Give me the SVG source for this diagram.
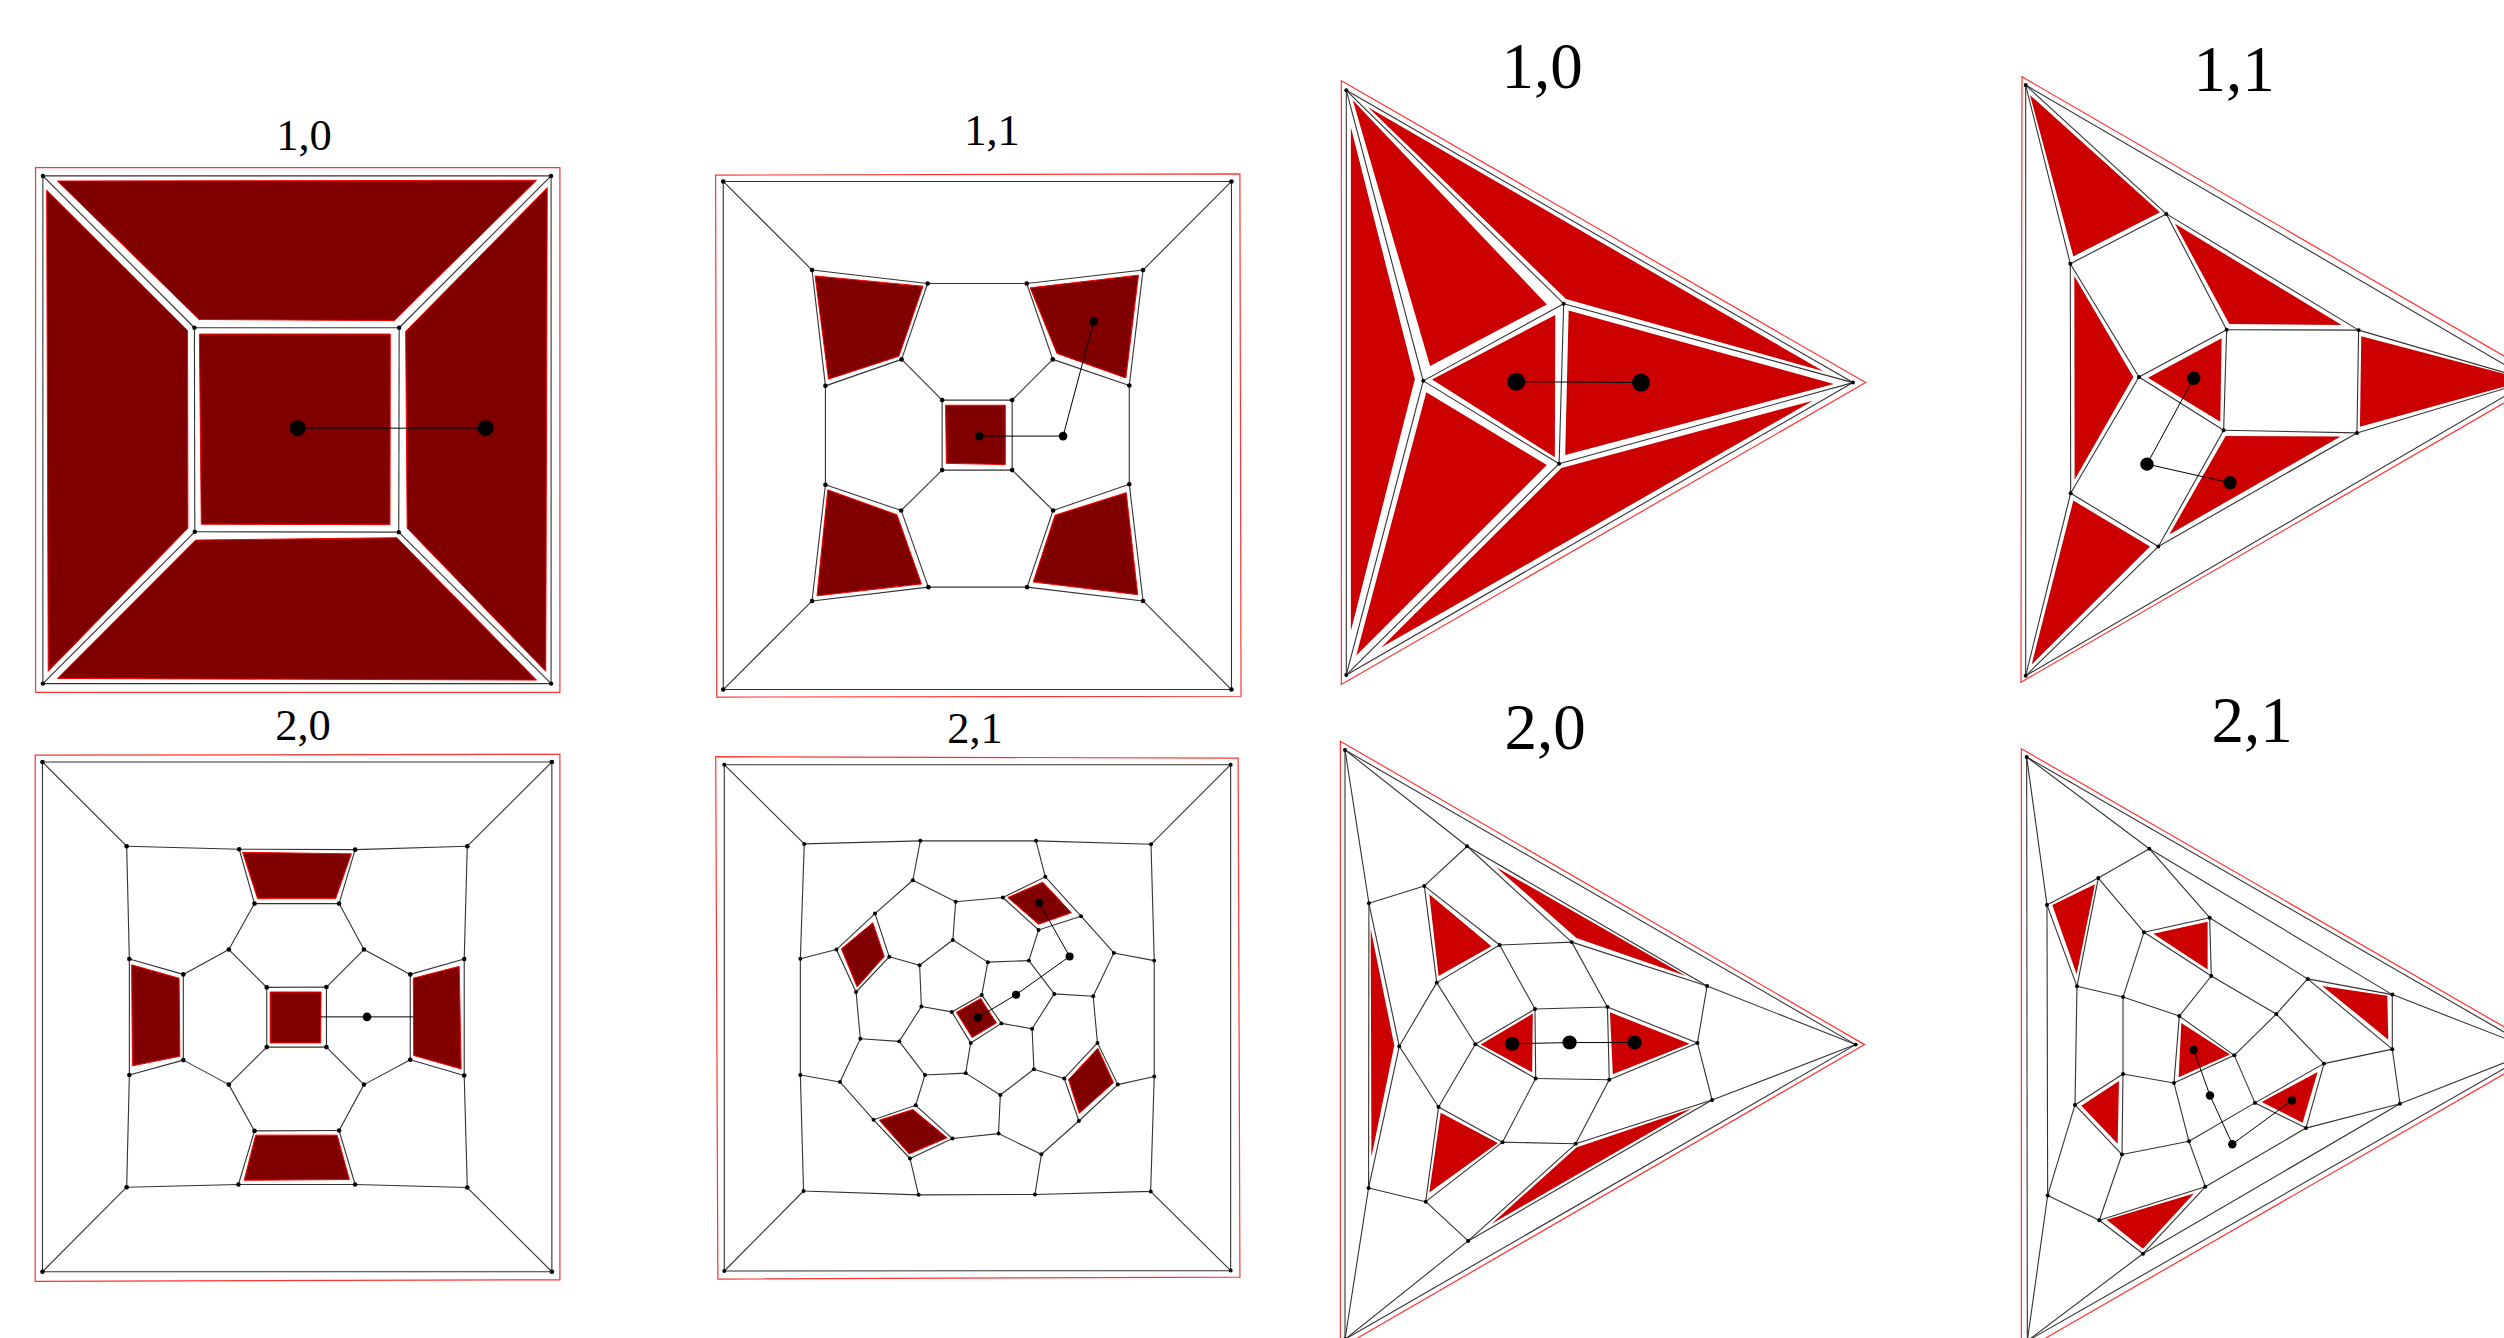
<svg xmlns="http://www.w3.org/2000/svg" width="2504" height="1338" viewBox="0 0 2504 1338">
<style>
text{font-family:"Liberation Serif","Times New Roman",serif;text-anchor:middle;fill:#000}
.s{font-size:44.5px}.l{font-size:65px}
polygon,path{vector-effect:non-scaling-stroke}
.o{fill:none;stroke:#f33;stroke-width:1.2}
.dr{fill:#800000;stroke:#f00;stroke-width:1}
.br{fill:#c00}
.e path{fill:none;stroke:#333;stroke-width:1.1}
.c path{fill:none;stroke:#000;stroke-width:1}
ellipse{fill:#000}
#p1 .v{rx:5.7px;ry:5.6px}#p1 .b{rx:21px;ry:20.2px}
#p2 .v{rx:6px;ry:5.8px}#p2 .b{rx:11.2px;ry:10.9px}
#p3 .v{rx:5.2px;ry:4.6px}#p3 .b{rx:23.5px;ry:20.8px}
#p4 .v{rx:6px;ry:4.6px}#p4 .b{rx:20px;ry:15.4px}
#p5 .v{rx:6px;ry:6px}#p5 .b{rx:11.2px;ry:11.2px}
#p6 .v{rx:5.6px;ry:5.2px}#p6 .b{rx:11.2px;ry:10.5px}
#p7 .v{rx:5.6px;ry:4.8px}#p7 .b{rx:20px;ry:17px}
#p8 .v{rx:6px;ry:4.8px}#p8 .b{rx:12.6px;ry:10.2px}
</style>

<g id="title-p1"><text class="s" x="304" y="150">1,0</text></g>
<g id="p1" transform="translate(0 100) scale(.3827 .3954)">
<polygon class="o" points="93,171 1463,171 1463,1498 93,1498"/>
<g id="p1f1"><polygon class="dr" points="150,205 1402,203 1030,558 520,555"/></g>
<g id="p1f2"><polygon class="dr" points="122,228 490,583 491,1083 126,1445"/></g>
<g id="p1f3"><polygon class="dr" points="1430,222 1060,585 1064,1083 1426,1445"/></g>
<g id="p1f4"><polygon class="dr" points="150,1463 511,1113 1037,1107 1402,1467"/></g>
<g id="p1f5"><polygon class="dr" points="521,592 1020,592 1019,1074 526,1073"/></g>
<g id="p1-edges" class="e">
<path d="M112 192L1440 192"/><path d="M1440 192L1440 1476"/><path d="M1440 1476L112 1476"/><path d="M112 1476L112 192"/>
<path d="M112 192L508 576"/><path d="M1440 192L1043 576"/><path d="M112 1476L509 1092"/><path d="M1440 1476L1042 1093"/>
<path d="M508 576L1043 576"/><path d="M1043 576L1042 1093"/><path d="M1042 1093L509 1092"/><path d="M509 1092L508 576"/>
</g>
<g id="p1-links" class="c"><path d="M778 830L1269 830"/></g>
<g id="p1n1"><ellipse class="v" cx="112" cy="192"/></g><g id="p1n2"><ellipse class="v" cx="1440" cy="192"/></g><g id="p1n3"><ellipse class="v" cx="112" cy="1476"/></g><g id="p1n4"><ellipse class="v" cx="1440" cy="1476"/></g>
<g id="p1n5"><ellipse class="v" cx="508" cy="576"/></g><g id="p1n6"><ellipse class="v" cx="1043" cy="576"/></g><g id="p1n7"><ellipse class="v" cx="509" cy="1092"/></g><g id="p1n8"><ellipse class="v" cx="1042" cy="1093"/></g>
<g id="p1d1"><ellipse class="b" cx="778" cy="830"/></g><g id="p1d2"><ellipse class="b" cx="1269" cy="830"/></g>
</g>

<g id="title-p2"><text class="s" x="992" y="145">1,1</text></g>
<g id="p2" transform="translate(680 100) scale(.3827 .3954)">
<polygon class="o" points="93,190 1463,187 1466,1508 96,1510"/>
<g id="p2f1"><polygon class="dr" points="353,445 635,471 572,648 388,706"/></g>
<g id="p2f2"><polygon class="dr" points="915,475 1198,443 1165,703 985,641"/></g>
<g id="p2f3"><polygon class="dr" points="386,986 567,1049 631,1224 358,1254"/></g>
<g id="p2f4"><polygon class="dr" points="980,1050 1166,993 1196,1251 923,1219"/></g>
<g id="p2f5"><polygon class="dr" points="694,772 850,772 850,922 696,919"/></g>
<g id="p2-edges" class="e">
<path d="M113 206L1441 206L1441 1491L113 1491Z"/>
<path d="M113 206L345 430"/><path d="M1441 206L1210 430"/><path d="M113 1491L345 1267"/><path d="M1441 1491L1210 1267"/>
<path d="M345 430L647 464"/><path d="M647 464L906 464"/><path d="M906 464L1210 430"/><path d="M345 430L380 723"/><path d="M380 723L579 656"/><path d="M579 656L647 464"/><path d="M906 464L974 656"/><path d="M974 656L1174 722"/><path d="M1174 722L1210 430"/><path d="M380 723L380 973"/><path d="M1174 722L1174 972"/><path d="M579 656L685 759"/><path d="M974 656L868 759"/><path d="M685 759L868 759L868 936L685 936Z"/><path d="M685 936L578 1038"/><path d="M868 936L975 1038"/><path d="M380 973L578 1038"/><path d="M578 1038L649 1232"/><path d="M649 1232L907 1232"/><path d="M907 1232L975 1038"/><path d="M975 1038L1174 972"/><path d="M380 973L345 1267"/><path d="M345 1267L649 1232"/><path d="M907 1232L1210 1267"/><path d="M1174 972L1210 1267"/>
</g>
<g id="p2-links" class="c"><path d="M782 850L1001 850L1081 560"/></g>
<g id="p2n1"><ellipse class="v" cx="113" cy="206"/></g><g id="p2n2"><ellipse class="v" cx="1441" cy="206"/></g><g id="p2n3"><ellipse class="v" cx="113" cy="1491"/></g><g id="p2n4"><ellipse class="v" cx="1441" cy="1491"/></g>
<g id="p2n5"><ellipse class="v" cx="345" cy="430"/></g><g id="p2n6"><ellipse class="v" cx="647" cy="464"/></g><g id="p2n7"><ellipse class="v" cx="906" cy="464"/></g><g id="p2n8"><ellipse class="v" cx="1210" cy="430"/></g>
<g id="p2n9"><ellipse class="v" cx="380" cy="723"/></g><g id="p2n10"><ellipse class="v" cx="579" cy="656"/></g><g id="p2n11"><ellipse class="v" cx="974" cy="656"/></g><g id="p2n12"><ellipse class="v" cx="1174" cy="722"/></g>
<g id="p2n13"><ellipse class="v" cx="685" cy="759"/></g><g id="p2n14"><ellipse class="v" cx="868" cy="759"/></g><g id="p2n15"><ellipse class="v" cx="685" cy="936"/></g><g id="p2n16"><ellipse class="v" cx="868" cy="936"/></g>
<g id="p2n17"><ellipse class="v" cx="380" cy="973"/></g><g id="p2n18"><ellipse class="v" cx="578" cy="1038"/></g><g id="p2n19"><ellipse class="v" cx="975" cy="1038"/></g><g id="p2n20"><ellipse class="v" cx="1174" cy="972"/></g>
<g id="p2n21"><ellipse class="v" cx="345" cy="1267"/></g><g id="p2n22"><ellipse class="v" cx="649" cy="1232"/></g><g id="p2n23"><ellipse class="v" cx="907" cy="1232"/></g><g id="p2n24"><ellipse class="v" cx="1210" cy="1267"/></g>
<g id="p2d1"><ellipse class="b" cx="782" cy="850"/></g><g id="p2d2"><ellipse class="b" cx="1001" cy="850"/></g><g id="p2d3"><ellipse class="b" cx="1081" cy="560"/></g>
</g>

<g id="title-p3"><text class="l" x="1542" y="88">1,0</text></g>
<g id="p3" transform="translate(1300 30) scale(.3827 .4337)">
<polygon class="o" points="108,117 1478,813 108,1509"/>
<g id="p3f1"><polygon class="br" points="178,178 695,620 1368,787"/></g>
<g id="p3f2"><polygon class="br" points="138,162 645,633 340,775"/></g>
<g id="p3f3"><polygon class="br" points="133,225 300,805 133,1385"/></g>
<g id="p3f4"><polygon class="br" points="330,835 645,1003 147,1442"/></g>
<g id="p3f5"><polygon class="br" points="212,1424 683,1010 1340,855"/></g>
<g id="p3f6"><polygon class="br" points="702,647 1395,816 693,980"/></g>
<g id="p3f7"><polygon class="br" points="345,806 667,657 666,985"/></g>
<g id="p3-edges" class="e">
<path d="M121 139L1445 813"/><path d="M1445 813L121 1487"/><path d="M121 139L121 1487"/><path d="M121 139L689 631"/><path d="M121 139L322 809"/><path d="M322 809L121 1487"/><path d="M121 1487L677 1000"/><path d="M689 631L1445 813"/><path d="M677 1000L1445 813"/><path d="M689 631L322 809"/><path d="M322 809L677 1000"/><path d="M689 631L677 1000"/>
</g>
<g id="p3-links" class="c"><path d="M565 811L891 813"/></g>
<g id="p3n1"><ellipse class="v" cx="121" cy="139"/></g><g id="p3n2"><ellipse class="v" cx="1445" cy="813"/></g><g id="p3n3"><ellipse class="v" cx="121" cy="1487"/></g><g id="p3n4"><ellipse class="v" cx="689" cy="631"/></g><g id="p3n5"><ellipse class="v" cx="322" cy="809"/></g><g id="p3n6"><ellipse class="v" cx="677" cy="1000"/></g>
<g id="p3d1"><ellipse class="b" cx="565" cy="811"/></g><g id="p3d2"><ellipse class="b" cx="891" cy="813"/></g>
</g>

<g id="title-p4"><text class="l" x="2234" y="91">1,1</text></g>
<g id="p4" transform="translate(1990 30) scale(.3333 .4337)">
<polygon class="o" points="96,108 1664,806 93,1504"/>
<g id="p4f1"><polygon class="br" points="120,150 510,420 250,522"/></g>
<g id="p4f2"><polygon class="br" points="555,447 1055,680 718,678"/></g>
<g id="p4f3"><polygon class="br" points="1114,706 1614,807 1110,915"/></g>
<g id="p4f4"><polygon class="br" points="253,567 430,800 254,1037"/></g>
<g id="p4f5"><polygon class="br" points="474,802 695,711 691,903"/></g>
<g id="p4f6"><polygon class="br" points="707,936 1052,937 538,1163"/></g>
<g id="p4f7"><polygon class="br" points="250,1085 480,1191 125,1463"/></g>
<g id="p4-edges" class="e">
<path d="M107 127L1625 808"/><path d="M1625 808L107 1489"/><path d="M107 127L107 1489"/><path d="M107 127L529 424"/><path d="M529 424L1106 692"/><path d="M1106 692L1625 808"/><path d="M107 127L241 539"/><path d="M241 539L529 424"/><path d="M529 424L710 691"/><path d="M710 691L1106 692"/><path d="M1106 692L1101 929"/><path d="M1101 929L1625 808"/><path d="M241 539L447 800"/><path d="M447 800L710 691"/><path d="M710 691L701 923"/><path d="M447 800L701 923"/><path d="M701 923L1101 929"/><path d="M241 539L242 1068"/><path d="M447 800L242 1068"/><path d="M242 1068L505 1191"/><path d="M505 1191L701 923"/><path d="M505 1191L1101 929"/><path d="M107 1489L242 1068"/><path d="M107 1489L505 1191"/>
</g>
<g id="p4-links" class="c"><path d="M611 803L471 1001L720 1044"/></g>
<g id="p4n1"><ellipse class="v" cx="107" cy="127"/></g><g id="p4n2"><ellipse class="v" cx="107" cy="1489"/></g><g id="p4n3"><ellipse class="v" cx="1625" cy="808"/></g><g id="p4n4"><ellipse class="v" cx="529" cy="424"/></g><g id="p4n5"><ellipse class="v" cx="241" cy="539"/></g><g id="p4n6"><ellipse class="v" cx="710" cy="691"/></g><g id="p4n7"><ellipse class="v" cx="1106" cy="692"/></g><g id="p4n8"><ellipse class="v" cx="447" cy="800"/></g><g id="p4n9"><ellipse class="v" cx="701" cy="923"/></g><g id="p4n10"><ellipse class="v" cx="1101" cy="929"/></g><g id="p4n11"><ellipse class="v" cx="242" cy="1068"/></g><g id="p4n12"><ellipse class="v" cx="505" cy="1191"/></g>
<g id="p4d1"><ellipse class="b" cx="611" cy="803"/></g><g id="p4d2"><ellipse class="b" cx="471" cy="1001"/></g><g id="p4d3"><ellipse class="b" cx="720" cy="1044"/></g>
</g>

<g id="title-p5"><text class="s" x="303" y="740">2,0</text></g>
<g id="p5" transform="translate(0 700) scale(.3827 .3827)">
<polygon class="o" points="92,144 1463,142 1463,1515 92,1519"/>
<g id="p5f1"><polygon class="dr" points="634,398 918,402 877,519 673,519"/></g>
<g id="p5f2"><polygon class="dr" points="344,692 468,727 470,931 346,956"/></g>
<g id="p5f3"><polygon class="dr" points="1080,727 1200,696 1205,964 1081,929"/></g>
<g id="p5f4"><polygon class="dr" points="668,1137 881,1137 913,1253 638,1255"/></g>
<g id="p5f5"><polygon class="dr" points="706,763 839,763 838,896 706,896"/></g>
<g id="p5-edges" class="e">
<path d="M111 162L1442 162L1442 1494L111 1494Z"/>
<path d="M111 162L331 382"/><path d="M1442 162L1221 382"/><path d="M111 1494L331 1273"/><path d="M1442 1494L1221 1274"/>
<path d="M331 382L625 390"/><path d="M625 390L928 391"/><path d="M928 391L1221 382"/><path d="M331 382L338 677"/><path d="M338 677L338 980"/><path d="M338 980L331 1273"/><path d="M1221 382L1213 677"/><path d="M1213 677L1213 981"/><path d="M1213 981L1221 1274"/><path d="M331 1273L623 1266"/><path d="M623 1266L928 1266"/><path d="M928 1266L1221 1274"/>
<path d="M625 390L665 532"/><path d="M928 391L886 532"/><path d="M665 532L886 532"/><path d="M665 532L598 652"/><path d="M886 532L951 652"/><path d="M598 652L479 717"/><path d="M951 652L1072 717"/><path d="M598 652L697 751"/><path d="M951 652L853 750"/><path d="M338 677L479 717"/><path d="M479 717L479 941"/><path d="M338 980L479 941"/><path d="M1213 677L1072 717"/><path d="M1072 717L1072 940"/><path d="M1072 940L1213 981"/><path d="M697 751L853 750L853 907L697 907Z"/><path d="M697 907L598 1005"/><path d="M853 907L951 1005"/><path d="M479 941L598 1005"/><path d="M1072 940L951 1005"/><path d="M598 1005L665 1126"/><path d="M951 1005L886 1125"/><path d="M665 1126L886 1125"/><path d="M665 1126L623 1266"/><path d="M886 1125L928 1266"/>
</g>
<g id="p5-links" class="c"><path d="M838 828L1080 828"/></g>
<g id="p5n1"><ellipse class="v" cx="111" cy="162"/></g><g id="p5n2"><ellipse class="v" cx="1442" cy="162"/></g><g id="p5n3"><ellipse class="v" cx="111" cy="1494"/></g><g id="p5n4"><ellipse class="v" cx="1442" cy="1494"/></g>
<g id="p5n5"><ellipse class="v" cx="331" cy="382"/></g><g id="p5n6"><ellipse class="v" cx="625" cy="390"/></g><g id="p5n7"><ellipse class="v" cx="928" cy="391"/></g><g id="p5n8"><ellipse class="v" cx="1221" cy="382"/></g>
<g id="p5n9"><ellipse class="v" cx="665" cy="532"/></g><g id="p5n10"><ellipse class="v" cx="886" cy="532"/></g><g id="p5n11"><ellipse class="v" cx="598" cy="652"/></g><g id="p5n12"><ellipse class="v" cx="951" cy="652"/></g>
<g id="p5n13"><ellipse class="v" cx="338" cy="677"/></g><g id="p5n14"><ellipse class="v" cx="479" cy="717"/></g><g id="p5n15"><ellipse class="v" cx="1072" cy="717"/></g><g id="p5n16"><ellipse class="v" cx="1213" cy="677"/></g>
<g id="p5n17"><ellipse class="v" cx="697" cy="751"/></g><g id="p5n18"><ellipse class="v" cx="853" cy="750"/></g><g id="p5n19"><ellipse class="v" cx="697" cy="907"/></g><g id="p5n20"><ellipse class="v" cx="853" cy="907"/></g>
<g id="p5n21"><ellipse class="v" cx="338" cy="980"/></g><g id="p5n22"><ellipse class="v" cx="479" cy="941"/></g><g id="p5n23"><ellipse class="v" cx="1072" cy="940"/></g><g id="p5n24"><ellipse class="v" cx="1213" cy="981"/></g>
<g id="p5n25"><ellipse class="v" cx="598" cy="1005"/></g><g id="p5n26"><ellipse class="v" cx="951" cy="1005"/></g><g id="p5n27"><ellipse class="v" cx="665" cy="1126"/></g><g id="p5n28"><ellipse class="v" cx="886" cy="1125"/></g>
<g id="p5n29"><ellipse class="v" cx="623" cy="1266"/></g><g id="p5n30"><ellipse class="v" cx="928" cy="1266"/></g><g id="p5n31"><ellipse class="v" cx="331" cy="1273"/></g><g id="p5n32"><ellipse class="v" cx="1221" cy="1274"/></g>
<g id="p5d1"><ellipse class="b" cx="959" cy="828"/></g>
</g>

<g id="title-p6"><text class="s" x="975" y="743">2,1</text></g>
<g id="p6" transform="translate(700 700) scale(.3571 .3827)">
<polygon class="o" points="44,148 1507,152 1512,1508 50,1513"/>
<g id="p6f1"><polygon class="dr" points="862,516 960,476 1040,556 948,586"/></g>
<g id="p6f2"><polygon class="dr" points="396,650 484,582 516,670 440,750"/></g>
<g id="p6f3"><polygon class="dr" points="1114,910 1158,1000 1062,1080 1032,992"/></g>
<g id="p6f4"><polygon class="dr" points="502,1098 596,1070 692,1144 586,1186"/></g>
<g id="p6f5"><polygon class="dr" points="718,816 786,780 830,844 762,882"/></g>
<g id="p6-edges" class="e">
<path d="M68 169L1486 169L1486 1491L68 1492Z"/>
<path d="M68 169L292 376"/><path d="M1486 169L1263 377"/><path d="M1486 1491L1262 1284"/><path d="M68 1492L290 1283"/>
<path d="M292 376L617 368L941 368L1263 377L1272 681L1272 984L1262 1284L938 1292L612 1293L290 1283L281 980L281 676Z"/>
<path d="M617 368L596 471"/><path d="M941 368L967 462"/><path d="M1272 681L1159 661"/><path d="M1272 984L1170 1005"/><path d="M938 1292L956 1187"/><path d="M612 1293L588 1198"/><path d="M281 980L392 998"/><path d="M281 676L382 652"/>
<path d="M596 471L716 527L848 516L967 462L1067 565L1159 661L1101 774L1113 896L1170 1005L1061 1100L956 1187L836 1133L707 1146L588 1198L486 1097L392 998L449 885L437 763L382 652L490 558Z"/>
<path d="M1067 565L948 601L848 516"/><path d="M490 558L530 671L437 763"/><path d="M1113 896L1020 989L1061 1100"/><path d="M486 1097L604 1059L707 1146"/><path d="M705 815L789 771L844 845L758 896Z"/>
<path d="M716 527L708 627"/><path d="M948 601L921 681"/><path d="M530 671L615 693"/><path d="M615 693L708 627"/><path d="M708 627L806 685"/><path d="M806 685L921 681"/><path d="M806 685L789 771"/><path d="M921 681L992 768"/><path d="M992 768L1101 774"/><path d="M992 768L930 859"/><path d="M844 845L930 859"/><path d="M930 859L935 965"/><path d="M935 965L1020 989"/><path d="M935 965L841 1032"/><path d="M841 1032L836 1133"/><path d="M841 1032L744 975"/><path d="M744 975L758 896"/><path d="M744 975L630 980"/><path d="M630 980L604 1059"/><path d="M630 980L558 892"/><path d="M558 892L449 885"/><path d="M558 892L620 801"/><path d="M620 801L705 815"/><path d="M620 801L615 693"/>
</g>
<g id="p6-links" class="c"><path d="M950 530L1035 670L885 770L778 830"/></g>
<g id="p6n1"><ellipse class="v" cx="68" cy="169"/></g><g id="p6n2"><ellipse class="v" cx="1486" cy="169"/></g><g id="p6n3"><ellipse class="v" cx="68" cy="1492"/></g><g id="p6n4"><ellipse class="v" cx="1486" cy="1491"/></g>
<g id="p6n5"><ellipse class="v" cx="292" cy="376"/></g><g id="p6n6"><ellipse class="v" cx="617" cy="368"/></g><g id="p6n7"><ellipse class="v" cx="941" cy="368"/></g><g id="p6n8"><ellipse class="v" cx="1263" cy="377"/></g><g id="p6n9"><ellipse class="v" cx="1272" cy="681"/></g><g id="p6n10"><ellipse class="v" cx="1272" cy="984"/></g><g id="p6n11"><ellipse class="v" cx="1262" cy="1284"/></g><g id="p6n12"><ellipse class="v" cx="938" cy="1292"/></g><g id="p6n13"><ellipse class="v" cx="612" cy="1293"/></g><g id="p6n14"><ellipse class="v" cx="290" cy="1283"/></g><g id="p6n15"><ellipse class="v" cx="281" cy="980"/></g><g id="p6n16"><ellipse class="v" cx="281" cy="676"/></g>
<g id="p6n17"><ellipse class="v" cx="596" cy="471"/></g><g id="p6n18"><ellipse class="v" cx="716" cy="527"/></g><g id="p6n19"><ellipse class="v" cx="848" cy="516"/></g><g id="p6n20"><ellipse class="v" cx="967" cy="462"/></g><g id="p6n21"><ellipse class="v" cx="1067" cy="565"/></g><g id="p6n22"><ellipse class="v" cx="1159" cy="661"/></g><g id="p6n23"><ellipse class="v" cx="1101" cy="774"/></g><g id="p6n24"><ellipse class="v" cx="1113" cy="896"/></g><g id="p6n25"><ellipse class="v" cx="1170" cy="1005"/></g><g id="p6n26"><ellipse class="v" cx="1061" cy="1100"/></g><g id="p6n27"><ellipse class="v" cx="956" cy="1187"/></g><g id="p6n28"><ellipse class="v" cx="836" cy="1133"/></g><g id="p6n29"><ellipse class="v" cx="707" cy="1146"/></g><g id="p6n30"><ellipse class="v" cx="588" cy="1198"/></g><g id="p6n31"><ellipse class="v" cx="486" cy="1097"/></g><g id="p6n32"><ellipse class="v" cx="392" cy="998"/></g><g id="p6n33"><ellipse class="v" cx="449" cy="885"/></g><g id="p6n34"><ellipse class="v" cx="437" cy="763"/></g><g id="p6n35"><ellipse class="v" cx="382" cy="652"/></g><g id="p6n36"><ellipse class="v" cx="490" cy="558"/></g>
<g id="p6n37"><ellipse class="v" cx="948" cy="601"/></g><g id="p6n38"><ellipse class="v" cx="530" cy="671"/></g><g id="p6n39"><ellipse class="v" cx="1020" cy="989"/></g><g id="p6n40"><ellipse class="v" cx="604" cy="1059"/></g><g id="p6n41"><ellipse class="v" cx="705" cy="815"/></g><g id="p6n42"><ellipse class="v" cx="789" cy="771"/></g><g id="p6n43"><ellipse class="v" cx="844" cy="845"/></g><g id="p6n44"><ellipse class="v" cx="758" cy="896"/></g>
<g id="p6n45"><ellipse class="v" cx="708" cy="627"/></g><g id="p6n46"><ellipse class="v" cx="921" cy="681"/></g><g id="p6n47"><ellipse class="v" cx="615" cy="693"/></g><g id="p6n48"><ellipse class="v" cx="806" cy="685"/></g><g id="p6n49"><ellipse class="v" cx="992" cy="768"/></g><g id="p6n50"><ellipse class="v" cx="930" cy="859"/></g><g id="p6n51"><ellipse class="v" cx="935" cy="965"/></g><g id="p6n52"><ellipse class="v" cx="841" cy="1032"/></g><g id="p6n53"><ellipse class="v" cx="744" cy="975"/></g><g id="p6n54"><ellipse class="v" cx="630" cy="980"/></g><g id="p6n55"><ellipse class="v" cx="558" cy="892"/></g><g id="p6n56"><ellipse class="v" cx="620" cy="801"/></g>
<g id="p6d1"><ellipse class="b" cx="950" cy="530"/></g><g id="p6d2"><ellipse class="b" cx="1035" cy="670"/></g><g id="p6d3"><ellipse class="b" cx="885" cy="770"/></g><g id="p6d4"><ellipse class="b" cx="778" cy="830"/></g>
</g>

<g id="title-p7"><text class="l" x="1545" y="749">2,0</text></g>
<g id="p7" transform="translate(1320 690) scale(.3571 .4133)">
<polygon class="o" points="57,124 1525,858 57,1592"/>
<g id="p7f1"><polygon class="br" points="492,428 1025,692 718,600"/></g>
<g id="p7f2"><polygon class="br" points="306,494 480,620 332,692"/></g>
<g id="p7f3"><polygon class="br" points="142,578 208,860 144,1130"/></g>
<g id="p7f4"><polygon class="br" points="450,858 596,783 594,925"/></g>
<g id="p7f5"><polygon class="br" points="812,780 1035,856 820,930"/></g>
<g id="p7f6"><polygon class="br" points="338,1023 498,1096 306,1216"/></g>
<g id="p7f7"><polygon class="br" points="480,1292 718,1107 1042,1012"/></g>
<g id="p7-edges" class="e">
<path d="M70 145L1500 858"/><path d="M1500 858L70 1571"/><path d="M70 145L70 1571"/><path d="M70 145L412 378"/><path d="M412 378L1084 716"/><path d="M1084 716L1500 858"/><path d="M412 378L705 610"/><path d="M705 610L1084 716"/><path d="M412 378L292 474"/><path d="M292 474L137 516"/><path d="M70 145L137 516"/><path d="M137 516L222 862"/><path d="M222 862L136 1205"/><path d="M137 516L136 1205"/><path d="M136 1205L70 1571"/><path d="M136 1205L296 1238"/><path d="M296 1238L415 1333"/><path d="M415 1333L70 1571"/><path d="M415 1333L1098 992"/><path d="M1098 992L1500 858"/><path d="M415 1333L716 1098"/><path d="M716 1098L1098 992"/><path d="M716 1098L511 1094"/><path d="M511 1094L296 1238"/><path d="M296 1238L332 1009"/><path d="M332 1009L511 1094"/><path d="M332 1009L222 862"/><path d="M222 862L327 708"/><path d="M327 708L292 474"/><path d="M292 474L503 617"/><path d="M327 708L503 617"/><path d="M503 617L705 610"/><path d="M503 617L602 772"/><path d="M705 610L805 767"/><path d="M602 772L805 767"/><path d="M602 772L435 857"/><path d="M327 708L435 857"/><path d="M435 857L604 940"/><path d="M435 857L332 1009"/><path d="M604 940L602 772"/><path d="M604 940L810 943"/><path d="M805 767L810 943"/><path d="M805 767L1057 854"/><path d="M810 943L1057 854"/><path d="M1057 854L1084 716"/><path d="M1057 854L1098 992"/><path d="M604 940L511 1094"/><path d="M810 943L716 1098"/>
</g>
<g id="p7-links" class="c"><path d="M538 856L699 853L881 853"/></g>
<g id="p7n1"><ellipse class="v" cx="70" cy="145"/></g><g id="p7n2"><ellipse class="v" cx="1500" cy="858"/></g><g id="p7n3"><ellipse class="v" cx="70" cy="1571"/></g><g id="p7n4"><ellipse class="v" cx="412" cy="378"/></g><g id="p7n5"><ellipse class="v" cx="292" cy="474"/></g><g id="p7n6"><ellipse class="v" cx="137" cy="516"/></g><g id="p7n7"><ellipse class="v" cx="503" cy="617"/></g><g id="p7n8"><ellipse class="v" cx="705" cy="610"/></g><g id="p7n9"><ellipse class="v" cx="327" cy="708"/></g><g id="p7n10"><ellipse class="v" cx="1084" cy="716"/></g><g id="p7n11"><ellipse class="v" cx="602" cy="772"/></g><g id="p7n12"><ellipse class="v" cx="805" cy="767"/></g><g id="p7n13"><ellipse class="v" cx="222" cy="862"/></g><g id="p7n14"><ellipse class="v" cx="435" cy="857"/></g><g id="p7n15"><ellipse class="v" cx="1057" cy="854"/></g><g id="p7n16"><ellipse class="v" cx="604" cy="940"/></g><g id="p7n17"><ellipse class="v" cx="810" cy="943"/></g><g id="p7n18"><ellipse class="v" cx="332" cy="1009"/></g><g id="p7n19"><ellipse class="v" cx="1098" cy="992"/></g><g id="p7n20"><ellipse class="v" cx="511" cy="1094"/></g><g id="p7n21"><ellipse class="v" cx="716" cy="1098"/></g><g id="p7n22"><ellipse class="v" cx="136" cy="1205"/></g><g id="p7n23"><ellipse class="v" cx="296" cy="1238"/></g><g id="p7n24"><ellipse class="v" cx="415" cy="1333"/></g>
<g id="p7d1"><ellipse class="b" cx="538" cy="856"/></g><g id="p7d2"><ellipse class="b" cx="699" cy="853"/></g><g id="p7d3"><ellipse class="b" cx="881" cy="853"/></g>
</g>

<g id="title-p8"><text class="l" x="2252" y="742">2,1</text></g>
<g id="p8" transform="translate(1990 690) scale(.3333 .4133)">
<polygon class="o" points="94,142 1665,872 94,1602"/>
<g id="p8f1"><polygon class="br" points="187,520 315,470 260,688"/></g>
<g id="p8f2"><polygon class="br" points="490,590 653,561 653,676"/></g>
<g id="p8f3"><polygon class="br" points="997,716 1192,740 1195,846"/></g>
<g id="p8f4"><polygon class="br" points="574,806 720,882 566,937"/></g>
<g id="p8f5"><polygon class="br" points="815,997 983,924 938,1047"/></g>
<g id="p8f6"><polygon class="br" points="274,1006 387,946 383,1098"/></g>
<g id="p8f7"><polygon class="br" points="350,1282 612,1218 459,1352"/></g>
<g id="p8-edges" class="e">
<path d="M110 162L1638 872"/><path d="M1638 872L112 1575"/><path d="M110 162L112 1575"/><path d="M110 162L478 384"/><path d="M478 384L659 551"/><path d="M478 384L1207 737"/><path d="M659 551L953 699"/><path d="M953 699L1207 737"/><path d="M953 699L1207 869"/><path d="M1207 737L1207 869"/><path d="M953 699L859 784"/>
<path d="M110 162L171 520"/><path d="M171 520L325 455"/><path d="M325 455L478 384"/><path d="M171 520L261 717"/><path d="M325 455L261 717"/><path d="M325 455L462 586"/><path d="M462 586L659 551"/><path d="M462 586L664 692"/><path d="M659 551L664 692"/><path d="M462 586L399 743"/><path d="M261 717L399 743"/><path d="M399 743L568 789"/><path d="M568 789L664 692"/><path d="M664 692L859 784"/><path d="M859 784L733 884"/><path d="M859 784L1002 904"/><path d="M1002 904L1207 869"/><path d="M1207 869L1230 1001"/><path d="M1230 1001L1638 872"/><path d="M1207 737L1638 872"/>
<path d="M568 789L733 884"/><path d="M568 789L552 951"/><path d="M552 951L733 884"/><path d="M733 884L795 999"/><path d="M795 999L1002 904"/><path d="M795 999L948 1060"/><path d="M1002 904L948 1060"/><path d="M948 1060L1230 1001"/><path d="M948 1060L646 1202"/><path d="M795 999L597 1092"/><path d="M597 1092L396 1124"/><path d="M597 1092L552 951"/><path d="M597 1092L646 1202"/><path d="M552 951L399 929"/><path d="M399 743L399 929"/><path d="M399 929L255 1004"/><path d="M399 929L396 1124"/><path d="M255 1004L396 1124"/><path d="M261 717L255 1004"/><path d="M171 520L173 1223"/><path d="M255 1004L173 1223"/><path d="M173 1223L112 1575"/><path d="M173 1223L328 1283"/><path d="M396 1124L328 1283"/><path d="M328 1283L646 1202"/><path d="M328 1283L459 1364"/><path d="M459 1364L646 1202"/><path d="M459 1364L112 1575"/><path d="M459 1364L1230 1001"/>
</g>
<g id="p8-links" class="c"><path d="M611 871L660 981L727 1099L906 993"/></g>
<g id="p8n1"><ellipse class="v" cx="110" cy="162"/></g><g id="p8n2"><ellipse class="v" cx="1638" cy="872"/></g><g id="p8n3"><ellipse class="v" cx="112" cy="1575"/></g><g id="p8n4"><ellipse class="v" cx="478" cy="384"/></g><g id="p8n5"><ellipse class="v" cx="325" cy="455"/></g><g id="p8n6"><ellipse class="v" cx="171" cy="520"/></g><g id="p8n7"><ellipse class="v" cx="659" cy="551"/></g><g id="p8n8"><ellipse class="v" cx="462" cy="586"/></g><g id="p8n9"><ellipse class="v" cx="664" cy="692"/></g><g id="p8n10"><ellipse class="v" cx="261" cy="717"/></g><g id="p8n11"><ellipse class="v" cx="953" cy="699"/></g><g id="p8n12"><ellipse class="v" cx="1207" cy="737"/></g><g id="p8n13"><ellipse class="v" cx="399" cy="743"/></g><g id="p8n14"><ellipse class="v" cx="859" cy="784"/></g><g id="p8n15"><ellipse class="v" cx="568" cy="789"/></g><g id="p8n16"><ellipse class="v" cx="733" cy="884"/></g><g id="p8n17"><ellipse class="v" cx="1207" cy="869"/></g><g id="p8n18"><ellipse class="v" cx="1002" cy="904"/></g><g id="p8n19"><ellipse class="v" cx="399" cy="929"/></g><g id="p8n20"><ellipse class="v" cx="552" cy="951"/></g><g id="p8n21"><ellipse class="v" cx="255" cy="1004"/></g><g id="p8n22"><ellipse class="v" cx="795" cy="999"/></g><g id="p8n23"><ellipse class="v" cx="1230" cy="1001"/></g><g id="p8n24"><ellipse class="v" cx="948" cy="1060"/></g><g id="p8n25"><ellipse class="v" cx="597" cy="1092"/></g><g id="p8n26"><ellipse class="v" cx="396" cy="1124"/></g><g id="p8n27"><ellipse class="v" cx="646" cy="1202"/></g><g id="p8n28"><ellipse class="v" cx="173" cy="1223"/></g><g id="p8n29"><ellipse class="v" cx="328" cy="1283"/></g><g id="p8n30"><ellipse class="v" cx="459" cy="1364"/></g>
<g id="p8d1"><ellipse class="b" cx="611" cy="871"/></g><g id="p8d2"><ellipse class="b" cx="660" cy="981"/></g><g id="p8d3"><ellipse class="b" cx="727" cy="1099"/></g><g id="p8d4"><ellipse class="b" cx="906" cy="993"/></g>
</g>
</svg>
